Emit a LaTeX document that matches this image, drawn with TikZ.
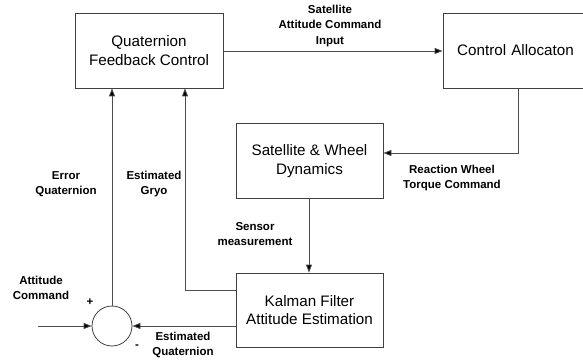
\documentclass[tikz,border=0pt]{standalone}
\usepackage{fontspec}
\setmainfont{Liberation Sans}
\usetikzlibrary{arrows.meta}
\begin{document}
\begin{tikzpicture}[x=1pt,y=-1pt,
  blk/.style={draw=black!75,line width=0.8pt,rectangle,inner sep=0pt,align=center,font=\fontsize{15.2}{18.5}\selectfont},
  lbl/.style={align=center,inner sep=0pt,font=\fontsize{11.5}{15.5}\selectfont\bfseries},
  conn/.style={draw=black!70,line width=0.8pt},
  arr/.style={conn,-{Triangle[length=8pt,width=6pt,fill=black]}}]
\useasboundingbox (0,0) rectangle (583,363);
\clip (0,0) rectangle (583,363);
\node[blk,minimum width=148pt,minimum height=75pt] (qfc) at (149,50.5) {Quaternion\\Feedback Control};
\node[blk,minimum width=148pt,minimum height=75pt,text width=148pt] (ca) at (517,50.5) {\hspace*{-3pt}Control Allocaton};
\node[blk,minimum width=147pt,minimum height=75pt] (swd) at (309.5,161) {Satellite \& Wheel\\Dynamics};
\node[blk,minimum width=147pt,minimum height=74pt] (kf) at (309.5,310) {Kalman Filter\\Attitude Estimation};
\node[draw=black!75,line width=0.8pt,circle,minimum size=40pt,inner sep=0pt] (sum) at (112,326) {};
\coordinate (in) at (38,326);
\coordinate (cadown) at (518,153);
\coordinate (gyro) at (185,290);
% connectors
\draw[arr] (qfc.east |- 0,51) -- (ca.west |- 0,51);
\draw[arr] (ca.south -| cadown) -- (cadown) -- (swd.east |- cadown);
\draw[arr] (swd.south -| 309,0) -- (kf.north -| 309,0);
\draw[arr] (in) -- (sum.west);
\draw[arr] (kf.west |- sum) -- (sum.east);
\draw[arr] (sum.north) -- (qfc.south -| sum.north);
\draw[arr] (kf.west |- gyro) -- (gyro) -- (qfc.south -| gyro);
% labels
\node[lbl] (l1) at (330,26) {Satellite\\Attitude Command\\Input};
\node[lbl] (l2) at (452,178) {Reaction Wheel\\Torque Command};
\node[lbl] (l3) at (255,234) {Sensor\\measurement};
\node[lbl] (l4) at (66,184) {Error\\Quaternion};
\node[lbl] (l5) at (154,184) {Estimated\\Gryo};
\node[lbl] (l6) at (41,288) {Attitude\\Command};
\node[lbl] (l7) at (183,345) {Estimated\\Quaternion};
\node[lbl] (plus) at (90,302) {+};
\node[lbl] (minus) at (137,347) {-};
\end{tikzpicture}
\end{document}
